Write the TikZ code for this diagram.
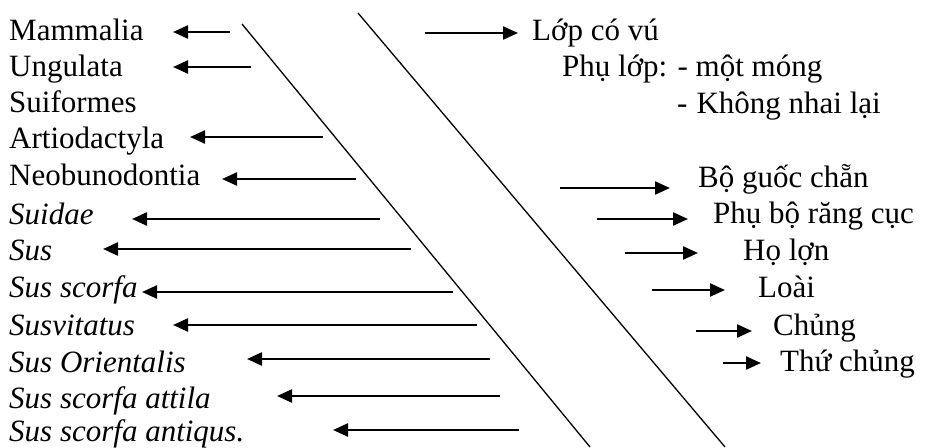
\documentclass[tikz,border=0pt]{standalone}
\usepackage{fontspec}
\setmainfont{Liberation Serif}
\usetikzlibrary{arrows.meta}
\begin{document}
\begin{tikzpicture}[x=1pt,y=-1pt,
  lbl/.style={anchor=base west,inner sep=0pt,font=\fontsize{31}{36}\selectfont},
  ptr/.style={line width=2.3pt,-{Triangle[length=15pt,width=13pt]}},
  slash/.style={line width=1.3pt}]
\useasboundingbox (0,0) rectangle (950,447);

% scientific names (left column)
\node[lbl] (mam) at (9,40)  {Mammalia};
\node[lbl] (ung) at (9,76)  {Ungulata};
\node[lbl] (sui) at (9,112) {Suiformes};
\node[lbl] (art) at (9,148) {Artiodactyla};
\node[lbl] (neo) at (9,185) {Neobunodontia};
\node[lbl] (sdae) at (9,224) {\itshape Suidae};
\node[lbl] (sus) at (9,260) {\itshape Sus};
\node[lbl] (ssc) at (9,297) {\itshape Sus scorfa};
\node[lbl] (svi) at (9,335) {\itshape Susvitatus};
\node[lbl] (sor) at (9,372) {\itshape Sus Orientalis};
\node[lbl] (sat) at (9,408) {\itshape Sus scorfa attila};
\node[lbl] (san) at (9,441) {\itshape Sus scorfa antiqus.};

% Vietnamese names (right column)
\node[lbl] (lop)  at (532,40)  {Lớp có vú};
\node[lbl] (phl)  at (562,76)  {Phụ lớp: - một móng};
\node[lbl] (knl)  at (677,113) {-\hspace{9pt}Không nhai lại};
\node[lbl] (bgc)  at (698,187) {Bộ guốc chẵn};
\node[lbl] (pbr)  at (713,223) {Phụ bộ răng cục};
\node[lbl] (hol)  at (743,260) {Họ lợn};
\node[lbl] (loai) at (758,297) {Loài};
\node[lbl] (chu)  at (773,335) {Chủng};
\node[lbl] (thu)  at (780,371) {Thứ chủng};

% the two slanted dividers
\coordinate (d1a) at (242,24);  \coordinate (d1b) at (590,447);
\coordinate (d2a) at (358,13);  \coordinate (d2b) at (725,447);
\draw[slash] (d1a) -- (d1b);
\draw[slash] (d2a) -- (d2b);

% left-pointing arrows: start (s) and tip (t)
\foreach \n/\yy/\tx/\sx in {a/32/173/230, b/67/173/251, c/137/190/323,
    d/179/222/356, e/219/132/380, f/249/103/411, g/292/142/453,
    h/325/173/477, i/359/247/490, j/396/277/500, k/430/333/519}{
  \coordinate (ls\n) at (\sx,\yy);
  \coordinate (lt\n) at (\tx,\yy);
  \draw[ptr] (ls\n) -- (lt\n);
}

% right-pointing arrows
\foreach \n/\yy/\sx/\tx in {a/33/425/518, b/188/560/670, c/219/597/688,
    d/253/625/698, e/290/652/725, f/331/696/752, g/363/723/761}{
  \coordinate (rs\n) at (\sx,\yy);
  \coordinate (rt\n) at (\tx,\yy);
  \draw[ptr] (rs\n) -- (rt\n);
}
\end{tikzpicture}
\end{document}
